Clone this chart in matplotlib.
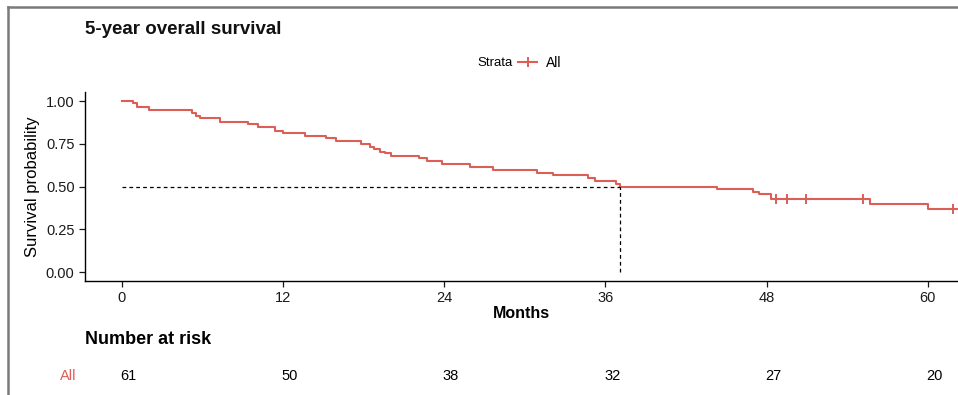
import matplotlib
matplotlib.use("Agg")
import matplotlib.pyplot as plt
import matplotlib.transforms as mtransforms
from matplotlib.lines import Line2D

plt.rcParams['font.family'] = ['Liberation Sans', 'DejaVu Sans']

# Kaplan-Meier steps (months, survival)
step_times = [0, 0.8, 1.1, 2.0, 5.2, 5.5, 5.8, 7.3, 9.4, 10.1, 11.4, 12.0, 13.6,
              15.2, 15.9, 17.8, 18.5, 18.8, 19.2, 19.6, 20.0, 22.1, 22.7, 23.8,
              25.9, 27.6, 30.9, 32.1, 34.7, 35.2, 36.8, 37.1, 44.3, 47.0, 47.4,
              48.3, 55.7, 60.0, 62.0]
step_surv = [1.000, 0.990, 0.964, 0.947, 0.930, 0.914, 0.899, 0.879, 0.864, 0.846,
             0.826, 0.811, 0.795, 0.782, 0.764, 0.747, 0.733, 0.718, 0.704, 0.694,
             0.678, 0.665, 0.649, 0.630, 0.616, 0.596, 0.581, 0.567, 0.548, 0.532,
             0.516, 0.499, 0.485, 0.470, 0.454, 0.425, 0.396, 0.368, 0.368]
censor_times = [48.7, 49.5, 50.9, 55.2, 61.9]
censor_surv = [0.425, 0.425, 0.425, 0.425, 0.368]
median_time = 37.1

risk_times = [0, 12, 24, 36, 48, 60]
risk_counts = [61, 50, 38, 32, 27, 20]

red = '#DB5F56'

fig = plt.figure(figsize=(9.58, 3.95), dpi=100)
ax = fig.add_axes([85 / 958, (395 - 280.6) / 395, 873 / 958, (280.6 - 92.5) / 395])

ax.step(step_times, step_surv, where='post', color=red, lw=1.5)
ax.plot(censor_times, censor_surv, ls='none', marker='+', ms=7, mew=1.4,
        color=red, clip_on=False)
ax.plot([0, median_time], [0.5, 0.5], ls=(0, (3, 2.5)), color='black', lw=0.9)
ax.plot([median_time, median_time], [0, 0.5], ls=(0, (3, 2.5)), color='black', lw=0.9)

ax.set_xlim(-2.755, 62.25)
ax.set_ylim(-0.05, 1.05)
ax.set_xticks(risk_times)
ax.set_yticks([0, 0.25, 0.5, 0.75, 1.0])
ax.set_yticklabels(['0.00', '0.25', '0.50', '0.75', '1.00'])
ax.tick_params(labelsize=10.5, length=4, width=0.9, colors='#1a1a1a')
for s in ['top', 'right']:
    ax.spines[s].set_visible(False)
for s in ['left', 'bottom']:
    ax.spines[s].set_linewidth(1.0)

ax.set_xlabel('Months', fontsize=11.5, fontweight='bold', labelpad=1)
ax.set_ylabel('Survival probability', fontsize=12, labelpad=4)

fig.text(85 / 958, 1 - 30 / 395, '5-year overall survival', fontsize=13.5,
         fontweight='bold', va='center', ha='left', color='#111111')

# legend
fig.text(513 / 958, 1 - 63 / 395, 'Strata', fontsize=9.5, va='center', ha='right')
handle = Line2D([], [], color=red, lw=1.5, marker='+', ms=7, mew=1.4)
fig.legend([handle], ['All'], loc='center left', bbox_to_anchor=(518 / 958, 1 - 63 / 395),
           frameon=False, fontsize=10, handlelength=1.4, handletextpad=0.6,
           borderpad=0, borderaxespad=0)

# number at risk table
fig.text(85 / 958, 1 - 340 / 395, 'Number at risk', fontsize=13, fontweight='bold',
         va='center', ha='left')
trans = mtransforms.blended_transform_factory(ax.transData, fig.transFigure)
for t, n in zip(risk_times, risk_counts):
    ax.text(t + 0.5, 1 - 376 / 395, str(n), transform=trans, fontsize=10.5,
            ha='center', va='center', clip_on=False)
fig.text(76 / 958, 1 - 376 / 395, 'All', fontsize=10.5, color=red, ha='right', va='center')

# outer frame
fig.add_artist(Line2D([8 / 958, 8 / 958], [0, 1 - 7 / 395], transform=fig.transFigure,
                      color='#7a7a7a', lw=1.8))
fig.add_artist(Line2D([8 / 958, 1], [1 - 7 / 395, 1 - 7 / 395], transform=fig.transFigure,
                      color='#7a7a7a', lw=1.8))

fig.savefig('out.png', dpi=100)
